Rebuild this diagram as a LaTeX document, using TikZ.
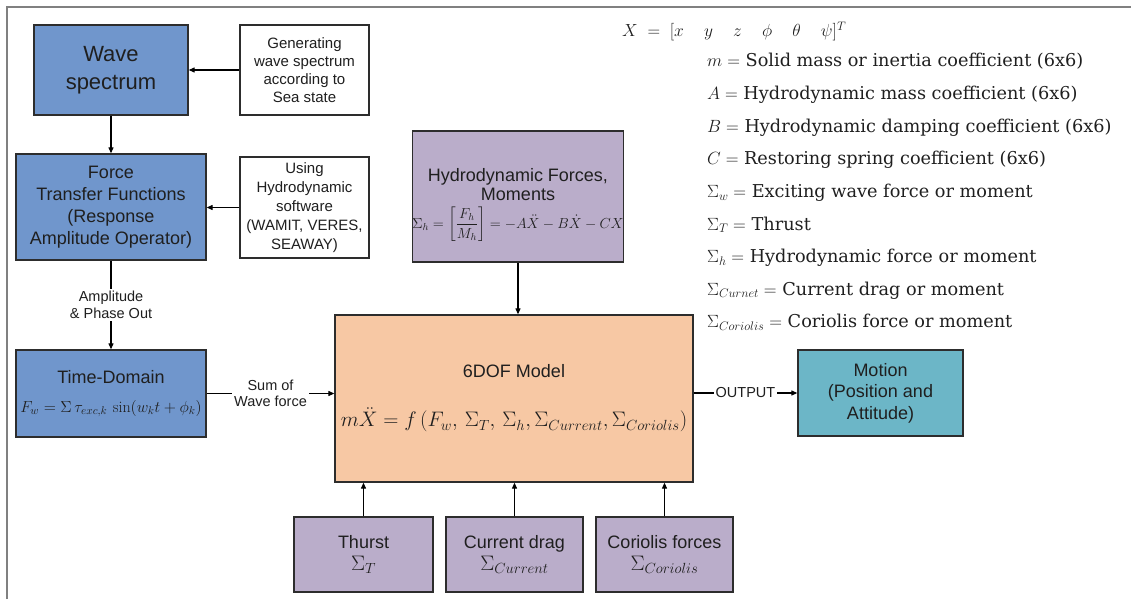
\RequirePackage{fix-cm}
\documentclass[tikz,border=0pt]{standalone}
\usepackage{amsmath}
\usepackage{fontspec}
\setsansfont{Liberation Sans}
\newfontfamily\legendfont{DejaVu Serif}
\usetikzlibrary{arrows.meta}

\definecolor{waveblue}{RGB}{112,150,204}
\definecolor{modelpeach}{RGB}{247,200,164}
\definecolor{forcelilac}{RGB}{186,173,202}
\definecolor{motionteal}{RGB}{108,182,199}
\definecolor{framegray}{RGB}{128,128,128}
\definecolor{edgegray}{RGB}{45,45,45}

\newcommand{\fsize}[1]{\fontsize{#1}{#1}\selectfont}

\begin{document}
\begin{tikzpicture}[
x=1pt, y=-1pt,
every node/.style={
align=center,
inner sep=0pt,
text=black!88
},
arrow/.style={-{Triangle[length=6pt,width=5pt]}, line width=1.1pt}
]

% =====================================================
% Styles
% =====================================================

\tikzstyle{wavebox} =
[rectangle,
fill=waveblue,
draw=edgegray,
line width=1.3pt]

\tikzstyle{sourcebox} =
[rectangle,
fill=white,
draw=edgegray,
line width=1.3pt,
font=\sffamily\fontsize{15}{18}\selectfont]

\tikzstyle{modelbox} =
[rectangle,
fill=modelpeach,
draw=edgegray,
line width=1.3pt,
font=\sffamily\fontsize{18}{21}\selectfont]

\tikzstyle{forcebox} =
[rectangle,
fill=forcelilac,
draw=edgegray,
line width=1.3pt,
font=\sffamily\fontsize{18}{22}\selectfont]

\tikzstyle{motionbox} =
[rectangle,
fill=motionteal,
draw=edgegray,
line width=1.3pt,
font=\sffamily\fontsize{18}{21.5}\selectfont]

\tikzstyle{edgelabel} =
[fill=white,
inner sep=2pt,
font=\sffamily\fontsize{14.5}{16.5}\selectfont]

\tikzstyle{legend} =
[anchor=base west,
font=\legendfont\fontsize{17.7}{20}\selectfont]

% =====================================================
% Frame
% =====================================================

\useasboundingbox (0,0) rectangle (1131,599);
\draw [framegray, line width=1.5pt] (7,599) -- (7,7) -- (1131,7);

% =====================================================
% Nodes
% =====================================================

\node (wave) [wavebox, minimum width=154pt, minimum height=90pt,
font=\sffamily\fontsize{22}{28}\selectfont] at (111,70)
{Wave\\spectrum};

\node (seastate) [sourcebox, minimum width=129pt, minimum height=90pt] at (304.5,70)
{Generating\\wave spectrum\\according to\\Sea state};

\node (rao) [wavebox, minimum width=190pt, minimum height=106pt,
font=\sffamily\fontsize{18}{22}\selectfont] at (111,207)
{Force\\Transfer Functions\\(Response\\Amplitude Operator)};

\node (software) [sourcebox, minimum width=129pt, minimum height=101pt,
font=\sffamily\fontsize{15}{19}\selectfont] at (304.5,207.5)
{Using\\Hydrodynamic\\software\\(WAMIT, VERES,\\SEAWAY)};

\node (timedomain) [wavebox, minimum width=190pt, minimum height=87pt,
font=\sffamily\fontsize{18}{21}\selectfont] at (111,393.5)
{Time-Domain\\[8pt]
{\fsize{16}$F_w=\Sigma\,\tau_{exc,k}\,\sin(w_k t+\phi_k)$}};

\node (hydro) [forcebox, minimum width=210pt, minimum height=131pt,
font=\sffamily\fontsize{18}{19}\selectfont] at (518,196.5)
{\rule{0pt}{30pt}Hydrodynamic Forces,\\Moments\\[6pt]
{\fsize{14.5}$\Sigma_h=\left[\dfrac{F_h}{M_h}\right]=-A\ddot{X}-B\dot{X}-CX$}};

\node (model) [modelbox, minimum width=358pt, minimum height=167pt] at (514,398.5)
{6DOF Model\\[28pt]
{\fsize{21}$m\ddot{X}=f\,(F_w,\,\Sigma_T,\,\Sigma_h,\Sigma_{Current},\Sigma_{Coriolis})$}};

\node (thrust) [forcebox, minimum width=139pt, minimum height=75pt] at (363.5,554.5)
{Thurst\\{\fsize{21}$\Sigma_T$}};

\node (current) [forcebox, minimum width=137pt, minimum height=75pt] at (514.5,554.5)
{Current drag\\{\fsize{21}$\Sigma_{Current}$}};

\node (coriolis) [forcebox, minimum width=137pt, minimum height=75pt] at (664.5,554.5)
{Coriolis forces\\{\fsize{21}$\Sigma_{Coriolis}$}};

\node (motion) [motionbox, minimum width=165pt, minimum height=86pt] at (880.5,393)
{Motion\\(Position and\\Attitude)};

% state vector and symbols
\node (state) [anchor=base west, font=\fsize{17.5}] at (622,37)
{$X\;=\;[x\hspace{1.15em}y\hspace{1.15em}z\hspace{1.15em}\phi\hspace{1.15em}\theta
\hspace{1.15em}\psi]^T$};

\foreach \txt [count=\i] in {
{$m=$ Solid mass or inertia coefficient (6x6)},
{$A=$ Hydrodynamic mass coefficient (6x6)},
{$B=$ Hydrodynamic damping coefficient (6x6)},
{$C=$ Restoring spring coefficient (6x6)},
{$\Sigma_w=$ Exciting wave force or moment},
{$\Sigma_T=$ Thrust},
{$\Sigma_h=$ Hydrodynamic force or moment},
{$\Sigma_{Curnet}=$ Current drag or moment},
{$\Sigma_{Coriolis}=$ Coriolis force or moment}}
\node (sym\i) [legend] at (707,{67+32.6*(\i-1)}) {\txt};

% =====================================================
% Arrows
% =====================================================

\draw [arrow] (seastate) -- (wave);

\draw [arrow] (software.west) -- (software.west -| rao.east);

\draw [arrow] (wave) -- (rao);

\draw [arrow] (rao) -- node [edgelabel] {Amplitude\\\& Phase Out} (timedomain);

\draw [arrow] (timedomain.east) -- node [edgelabel] {Sum of\\Wave force}
(timedomain.east -| model.west);

\draw [arrow] (hydro.south) -- (hydro.south |- model.north);

\draw [arrow] (thrust.north) -- (thrust.north |- model.south);

\draw [arrow] (current.north) -- (current.north |- model.south);

\draw [arrow] (coriolis.north) -- (coriolis.north |- model.south);

\draw [arrow] (motion.west -| model.east) -- node [edgelabel] {OUTPUT} (motion.west);

\end{tikzpicture}
\end{document}
